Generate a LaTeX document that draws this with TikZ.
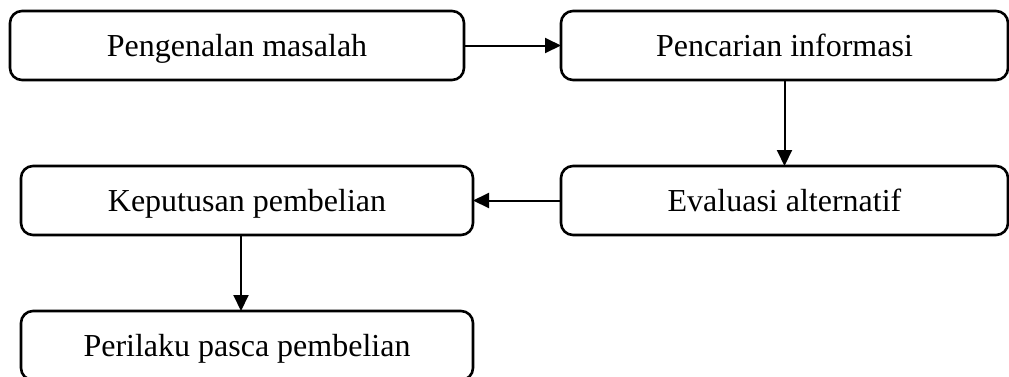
\documentclass[tikz,border=0pt]{standalone}
\usepackage{fontspec}
\setmainfont{Liberation Serif}
\usetikzlibrary{arrows.meta}
\begin{document}
\begin{tikzpicture}[x=1pt,y=-1pt,
  stepbox/.style={draw=black,line width=2.6pt,rounded corners=12pt,inner sep=0pt,outer sep=0pt,
    minimum height=69pt,text height=21pt,text depth=0pt,font=\fontsize{32}{38}\selectfont},
  conn/.style={line width=2pt,-{Triangle[length=16pt,width=15pt]}}]
\useasboundingbox (0,0) rectangle (1009,376);
\clip (0,0) rectangle (1009,376);
\node[stepbox,minimum width=454pt] (b1) at (237,45.5) {Pengenalan masalah};
\node[stepbox,minimum width=447pt] (b2) at (784.5,45.5) {Pencarian informasi};
\node[stepbox,minimum width=447pt] (b3) at (784.5,200.5) {Evaluasi alternatif};
\node[stepbox,minimum width=452pt] (b4) at (247,200.5) {Keputusan pembelian};
\node[stepbox,minimum width=452pt] (b5) at (247,345.5) {Perilaku pasca pembelian};
\draw[conn] (b1.east) -- (b2.west);
\draw[conn] (b2.south) -- (b3.north);
\draw[conn] (b3.west) -- (b4.east);
\draw[conn] ([xshift=-6pt]b4.south) -- ([xshift=-6pt]b5.north);
\end{tikzpicture}
\end{document}
